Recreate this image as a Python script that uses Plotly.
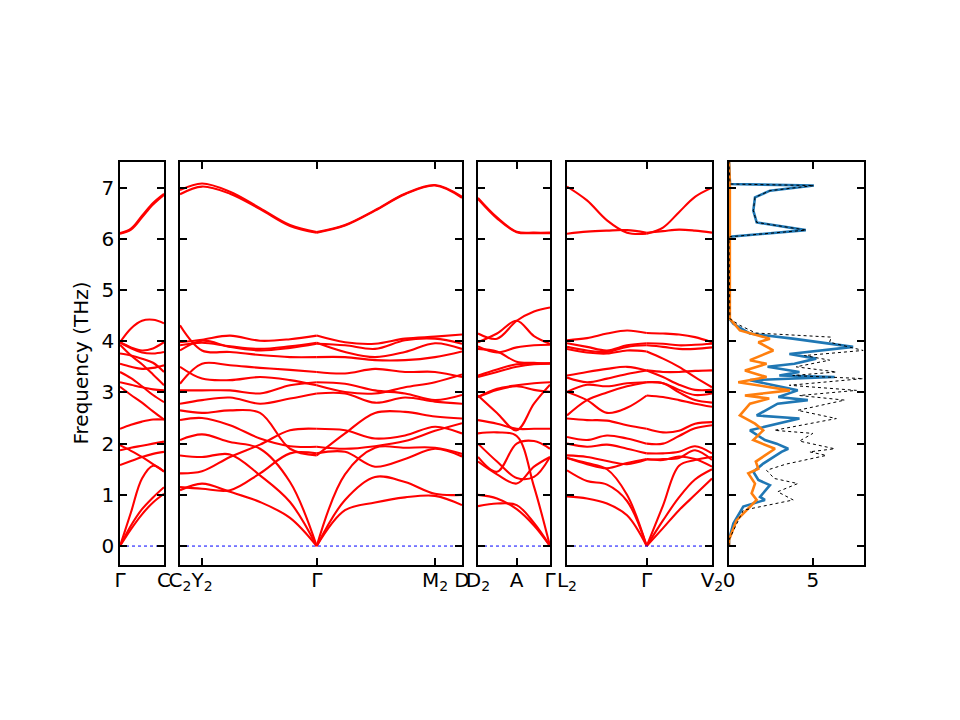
import plotly.graph_objects as go

# phonon bands (THz) read along each k-path segment

# panel 1 : Gamma -> C
k1 = [0.0, 0.11, 0.22, 0.33, 0.44]
bands1 = [
    [0.00, 0.66, 1.32, 1.57, 1.45],
    [0.00, 0.40, 0.72, 0.95, 1.15],
    [0.00, 0.33, 0.62, 0.85, 1.02],
    [1.58, 1.66, 1.74, 1.80, 1.84],
    [1.97, 1.86, 1.74, 1.60, 1.46],
    [1.87, 1.92, 1.96, 2.00, 2.04],
    [2.29, 2.37, 2.43, 2.47, 2.47],
    [3.11, 2.95, 2.80, 2.63, 2.47],
    [3.20, 3.15, 3.10, 3.06, 3.04],
    [3.40, 3.28, 3.12, 2.95, 2.81],
    [3.56, 3.50, 3.46, 3.48, 3.53],
    [3.76, 3.72, 3.66, 3.58, 3.40],
    [3.93, 3.72, 3.55, 3.35, 3.14],
    [3.98, 3.88, 3.82, 3.86, 3.98],
    [3.98, 3.86, 3.78, 3.76, 3.79],
    [3.98, 4.25, 4.40, 4.42, 4.35],
    [6.11, 6.20, 6.45, 6.70, 6.88],
    [6.10, 6.18, 6.42, 6.67, 6.86],
]
ticks1 = [0.0, 0.44]
labels1 = ["Γ", "C"]

# panel 2 : C2 -> Y2 -> Gamma -> M2 -> D
k2 = [0.0, 0.22, 0.50, 0.80, 1.10, 1.367, 1.65, 1.95, 2.25, 2.55, 2.82]
bands2 = [
    [1.09, 1.22, 1.06, 0.86, 0.55, 0.00, 0.70, 0.85, 0.95, 0.98, 0.80],
    [1.77, 1.74, 1.79, 1.38, 0.86, 0.00, 0.90, 1.35, 1.25, 1.02, 1.00],
    [2.07, 2.18, 2.03, 1.90, 1.25, 0.00, 1.40, 1.92, 1.92, 1.92, 1.80],
    [1.15, 1.12, 1.09, 1.42, 1.81, 1.81, 1.84, 1.55, 1.70, 1.90, 1.75],
    [1.42, 1.46, 1.74, 1.98, 2.26, 2.29, 2.26, 2.10, 2.16, 2.33, 2.20],
    [2.65, 2.60, 2.65, 2.60, 1.90, 1.77, 2.20, 2.60, 2.62, 2.53, 2.49],
    [2.46, 2.50, 2.36, 2.10, 1.95, 1.94, 1.90, 1.95, 2.05, 2.25, 2.40],
    [2.78, 2.85, 2.90, 2.78, 2.88, 2.98, 2.98, 2.80, 2.90, 2.82, 2.78],
    [3.04, 3.04, 3.04, 2.98, 3.14, 3.20, 3.17, 3.04, 2.98, 2.85, 2.95],
    [3.17, 3.56, 3.53, 3.48, 3.44, 3.40, 3.37, 3.46, 3.40, 3.40, 3.30],
    [3.50, 3.27, 3.24, 3.30, 3.24, 3.14, 3.01, 2.98, 3.10, 3.20, 3.35],
    [4.31, 3.82, 3.79, 3.73, 3.69, 3.69, 3.69, 3.63, 3.63, 3.69, 3.80],
    [3.82, 4.01, 3.89, 3.82, 3.87, 3.95, 3.92, 3.85, 4.02, 4.05, 3.95],
    [3.98, 4.03, 4.11, 4.01, 4.04, 4.11, 3.98, 3.95, 4.05, 4.09, 4.13],
    [3.92, 3.97, 3.90, 3.85, 3.90, 3.97, 3.79, 3.69, 3.79, 3.96, 3.85],
    [6.95, 7.08, 6.92, 6.60, 6.27, 6.13, 6.27, 6.56, 6.88, 7.05, 6.82],
    [6.87, 7.02, 6.88, 6.58, 6.25, 6.12, 6.26, 6.55, 6.87, 7.04, 6.80],
]
ticks2 = [0.0, 0.22, 1.367, 2.55, 2.82]
labels2 = ["C<sub>2</sub>", "Y<sub>2</sub>", "Γ", "M<sub>2</sub>", "D"]
gamma2 = 5

# panel 3 : D2 -> A -> Gamma
k3 = [0.0, 0.19, 0.387, 0.56, 0.72]
bands3 = [
    [4.15, 4.05, 4.40, 4.58, 4.66],
    [3.98, 4.15, 4.40, 4.10, 3.95],
    [3.90, 3.78, 3.88, 3.92, 3.93],
    [3.85, 3.80, 3.60, 3.58, 3.57],
    [3.33, 3.45, 3.55, 3.56, 3.57],
    [3.30, 3.40, 3.50, 3.55, 3.56],
    [2.91, 3.07, 3.14, 3.18, 3.20],
    [2.91, 3.05, 3.12, 3.05, 3.01],
    [2.94, 2.60, 2.26, 2.78, 3.15],
    [2.46, 2.39, 2.29, 2.29, 2.29],
    [2.20, 2.22, 2.15, 1.16, 0.00],
    [2.00, 1.65, 1.33, 1.35, 1.74],
    [1.74, 1.45, 2.00, 2.05, 1.90],
    [1.65, 1.40, 1.22, 1.55, 1.74],
    [1.00, 0.93, 0.72, 0.40, 0.00],
    [0.78, 0.83, 0.80, 0.45, 0.00],
    [6.80, 6.42, 6.14, 6.12, 6.12],
    [6.78, 6.40, 6.13, 6.11, 6.11],
]
ticks3 = [0.0, 0.387, 0.72]
labels3 = ["D<sub>2</sub>", "A", "Γ"]

# panel 4 : L2 -> Gamma -> V2
k4 = [0.0, 0.20, 0.40, 0.60, 0.797, 0.96, 1.12, 1.28, 1.45]
bands4 = [
    [4.02, 4.06, 4.15, 4.21, 4.16, 4.15, 4.13, 4.08, 3.98],
    [3.96, 3.89, 3.82, 3.92, 3.96, 3.95, 3.92, 3.93, 3.95],
    [3.89, 3.82, 3.79, 3.89, 3.92, 3.89, 3.85, 3.85, 3.88],
    [3.85, 3.78, 3.76, 3.82, 3.80, 3.66, 3.50, 3.30, 3.10],
    [3.33, 3.40, 3.46, 3.50, 3.43, 3.40, 3.40, 3.42, 3.43],
    [3.29, 3.20, 3.27, 3.36, 3.43, 3.30, 3.15, 3.05, 3.05],
    [3.01, 3.15, 3.12, 3.18, 3.20, 3.18, 3.05, 2.95, 2.98],
    [2.55, 2.85, 3.00, 3.12, 3.20, 3.18, 3.00, 2.85, 2.80],
    [3.01, 2.85, 2.60, 2.70, 2.94, 2.91, 2.85, 2.78, 2.72],
    [2.49, 2.46, 2.45, 2.36, 2.29, 2.22, 2.25, 2.39, 2.42],
    [2.13, 2.07, 2.16, 2.10, 2.00, 2.00, 2.15, 2.30, 2.36],
    [2.00, 1.94, 1.98, 1.90, 1.81, 1.81, 1.84, 1.95, 1.81],
    [1.77, 1.74, 1.66, 1.60, 1.69, 1.70, 1.72, 1.87, 1.68],
    [1.72, 1.60, 1.52, 1.62, 1.70, 1.68, 1.75, 1.70, 1.55],
    [1.48, 1.27, 1.20, 0.88, 0.00, 0.79, 1.57, 1.68, 1.74],
    [0.97, 0.93, 0.83, 0.60, 0.00, 0.35, 0.70, 1.00, 1.32],
    [1.72, 1.62, 1.50, 1.00, 0.00, 0.50, 0.95, 1.30, 1.50],
    [7.02, 6.75, 6.36, 6.12, 6.10, 6.22, 6.52, 6.82, 7.00],
    [6.10, 6.14, 6.16, 6.17, 6.12, 6.15, 6.18, 6.16, 6.12],
]
ticks4 = [0.0, 0.797, 1.45]
labels4 = ["L<sub>2</sub>", "Γ", "V<sub>2</sub>"]
gamma4 = 4

# density of states
dos_blue_f = [0.00, 0.12, 0.44, 0.77, 0.90, 0.96, 1.19, 1.29, 1.45, 1.61,
              1.84, 1.90, 2.00, 2.07, 2.26, 2.49, 2.55, 2.78, 2.85, 2.91,
              3.04, 3.24, 3.30, 3.33, 3.40, 3.50, 3.56, 3.66, 3.75, 3.89,
              4.05, 4.15, 4.34, 4.44, 6.00, 6.04, 6.17, 6.32, 6.55, 6.81,
              6.94, 7.04, 7.07, 7.50]
dos_blue = [0.00, 0.00, 0.26, 0.85, 2.14, 1.85, 2.44, 1.75, 1.45, 2.04,
            3.13, 3.53, 2.84, 2.14, 1.25, 4.20, 1.65, 2.90, 4.70, 2.94,
            4.10, 1.25, 6.30, 3.00, 4.20, 2.30, 3.90, 5.20, 3.60, 7.40,
            3.80, 1.25, 0.26, 0.02, 0.00, 0.05, 4.58, 1.65, 1.45, 1.55,
            2.44, 5.06, 0.06, 0.00]
dos_orange_f = [0.00, 0.12, 0.50, 0.90, 1.03, 1.22, 1.42, 1.51, 1.65, 1.90,
                2.07, 2.26, 2.39, 2.55, 2.78, 2.88, 2.94, 3.04, 3.20, 3.30,
                3.43, 3.56, 3.63, 3.82, 3.98, 4.05, 4.21, 4.44, 7.10, 7.50]
dos_orange = [0.00, 0.00, 0.45, 1.65, 1.35, 1.55, 1.15, 1.75, 1.60, 2.74,
              1.45, 2.04, 1.55, 0.65, 1.25, 2.40, 0.95, 3.63, 0.55, 2.24,
              0.95, 2.24, 1.25, 2.64, 1.75, 2.44, 0.65, 0.05, 0.05, 0.00]
dos_total_f = [0.00, 0.12, 0.70, 0.90, 1.06, 1.22, 1.32, 1.48, 1.60, 1.77,
               1.84, 1.90, 2.05, 2.20, 2.26, 2.49, 2.65, 2.85, 2.94, 3.04,
               3.14, 3.27, 3.33, 3.40, 3.50, 3.63, 3.72, 3.82, 3.98, 4.08,
               4.16, 4.31, 4.44, 6.00, 6.04, 6.17, 6.32, 6.55, 6.81, 6.94,
               7.04, 7.07, 7.50]
dos_total = [0.00, 0.00, 0.85, 3.83, 2.90, 4.10, 2.70, 2.24, 3.40, 5.80,
             4.80, 6.30, 4.20, 5.00, 2.70, 6.40, 4.10, 6.90, 4.20, 7.60,
             3.60, 8.00, 3.80, 6.40, 4.00, 6.00, 4.50, 8.00, 6.00, 6.10,
             1.60, 0.65, 0.05, 0.00, 0.05, 4.60, 1.65, 1.45, 1.55, 2.44,
             5.06, 0.06, 0.00]
dos_ticks = [0, 5]

# page body adds an 8px margin, so domains are shifted by that much
panels = [
    (k1, bands1, None, ticks1, labels1, [0.11667, 0.16250]),
    (k2, bands2, gamma2, ticks2, labels2, [0.17917, 0.47292]),
    (k3, bands3, None, ticks3, labels3, [0.48958, 0.56458]),
    (k4, bands4, gamma4, ticks4, labels4, [0.58229, 0.73333]),
]
ydom = [0.22639, 0.78611]
yrange = [-0.37, 7.5]

fig = go.Figure()

axis_style = dict(showline=True, linecolor="black", linewidth=1.5, mirror="ticks",
                  ticks="inside", ticklen=7, tickwidth=1.5, tickcolor="black",
                  showgrid=False, zeroline=False, automargin=False, tickangle=0)

for i, (k, bands, split, tv, tt, dom) in enumerate(panels):
    n = i + 1
    xa = "x" if n == 1 else f"x{n}"
    ya = "y" if n == 1 else f"y{n}"
    for b in bands:
        segs = [(0, len(k))] if split is None else [(0, split + 1), (split, len(k))]
        for s, e in segs:
            fig.add_trace(go.Scatter(x=k[s:e], y=b[s:e], mode="lines", xaxis=xa, yaxis=ya,
                                     line=dict(color="red", width=2.1, shape="spline"),
                                     hoverinfo="skip"))
    # zero-frequency guide
    fig.add_trace(go.Scatter(x=[k[0], k[-1]], y=[0, 0], mode="lines", xaxis=xa, yaxis=ya,
                             line=dict(color="blue", width=1, dash="dot"), hoverinfo="skip"))
    fig.layout[f"xaxis{n if n > 1 else ''}"] = dict(
        domain=dom, range=[k[0], k[-1]], tickmode="array", tickvals=tv, ticktext=tt,
        anchor=ya, ticklabelstandoff=-4, **axis_style)
    fig.layout[f"yaxis{n if n > 1 else ''}"] = dict(
        domain=ydom, range=yrange, tickmode="array", tickvals=list(range(8)),
        showticklabels=(n == 1), anchor=xa, **axis_style)

# DOS panel
fig.add_trace(go.Scatter(x=dos_blue, y=dos_blue_f, mode="lines", xaxis="x5", yaxis="y5",
                         line=dict(color="#1f77b4", width=2.6), hoverinfo="skip"))
fig.add_trace(go.Scatter(x=dos_orange, y=dos_orange_f, mode="lines", xaxis="x5", yaxis="y5",
                         line=dict(color="#ff7f0e", width=2.6), hoverinfo="skip"))
fig.add_trace(go.Scatter(x=dos_total, y=dos_total_f, mode="lines", xaxis="x5", yaxis="y5",
                         line=dict(color="black", width=1, dash="dot"), hoverinfo="skip"))
fig.layout["xaxis5"] = dict(domain=[0.75104, 0.89167], range=[0, 8.05], tickmode="array",
                            tickvals=dos_ticks, anchor="y5", ticklabelstandoff=-4,
                            **axis_style)
fig.layout["yaxis5"] = dict(domain=ydom, range=yrange, tickmode="array",
                            tickvals=list(range(8)), showticklabels=False, anchor="x5",
                            **axis_style)

fig.add_annotation(text="Frequency (THz)", textangle=-90, x=0.075, y=0.50625,
                   xref="paper", yref="paper", showarrow=False,
                   xanchor="center", yanchor="middle", font=dict(size=20))

fig.update_layout(width=960, height=720, margin=dict(l=0, r=0, t=0, b=0),
                  paper_bgcolor="white", plot_bgcolor="white", showlegend=False,
                  font=dict(family="DejaVu Sans", size=20, color="black"))

fig.write_html("out.html")
